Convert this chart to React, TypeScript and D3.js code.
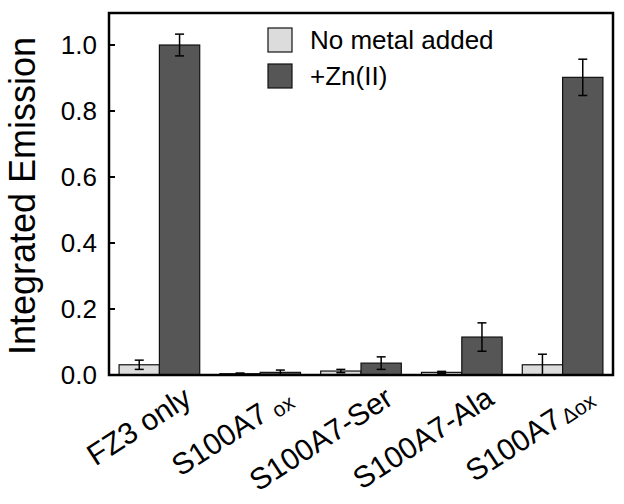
import * as d3 from "d3";

// group labels (main text + small trailing part)
const labelMain = ["FZ3 only", "S100A7", "S100A7-Ser", "S100A7-Ala", "S100A7"];
const labelSmall = ["", "ox", "", "", "Δox"];

// series values
const noMetal = [0.031, 0.004, 0.012, 0.008, 0.031];
const noMetalErr = [0.014, 0.002, 0.005, 0.003, 0.032];
const zinc = [1.0, 0.008, 0.036, 0.115, 0.902];
const zincErr = [0.033, 0.007, 0.019, 0.043, 0.055];

const seriesNames = ["No metal added", "+Zn(II)"];
const yTicks = [0, 0.2, 0.4, 0.6, 0.8, 1.0];

const W = 624;
const H = 504;
const m = { left: 109, right: 11, top: 13, bottom: 129 };
const font = "'Liberation Sans', Arial, Helvetica, sans-serif";
const colors = ["#dcdcdc", "#565656"];

export default function App() {
  const x = d3
    .scaleBand<number>()
    .domain(d3.range(labelMain.length))
    .range([m.left, W - m.right])
    .paddingInner(0.2)
    .paddingOuter(0.1);

  const inner = d3
    .scaleBand<number>()
    .domain([0, 1])
    .range([0, x.bandwidth()]);

  const y = d3
    .scaleLinear()
    .domain([0, 1.097])
    .range([H - m.bottom, m.top]);

  const series = [
    { vals: noMetal, errs: noMetalErr },
    { vals: zinc, errs: zincErr },
  ];

  return (
    <svg
      width={W}
      height={H}
      style={{ position: "absolute", left: 0, top: 0, background: "#fff" }}
      fontFamily={font}
    >
      {/* bars */}
      {series.map((s, si) =>
        s.vals.map((v, i) => (
          <rect
            key={`b${si}-${i}`}
            x={(x(i) ?? 0) + (inner(si) ?? 0)}
            y={y(v)}
            width={inner.bandwidth()}
            height={y(0) - y(v)}
            fill={colors[si]}
            stroke="#111"
            strokeWidth={1.2}
          />
        ))
      )}

      {/* error bars, drawn over the bars */}
      {series.map((s, si) =>
        s.vals.map((v, i) => {
          const cx = (x(i) ?? 0) + (inner(si) ?? 0) + inner.bandwidth() / 2;
          const y1 = y(v + s.errs[i]);
          const y2 = y(Math.max(0, v - s.errs[i]));
          return (
            <g key={`e${si}-${i}`} stroke="#000" strokeWidth={1.5}>
              <line x1={cx} x2={cx} y1={y1} y2={y2} />
              <line x1={cx - 4.5} x2={cx + 4.5} y1={y1} y2={y1} />
              <line x1={cx - 4.5} x2={cx + 4.5} y1={y2} y2={y2} />
            </g>
          );
        })
      )}

      {/* frame */}
      <rect
        x={m.left}
        y={m.top}
        width={W - m.left - m.right}
        height={H - m.top - m.bottom}
        fill="none"
        stroke="#000"
        strokeWidth={2.5}
      />

      {/* y ticks (inward) */}
      {yTicks.map((t) => (
        <g key={t}>
          <line x1={m.left} x2={m.left + 6} y1={y(t)} y2={y(t)} stroke="#000" strokeWidth={2} />
          <text
            x={m.left - 12}
            y={y(t)}
            textAnchor="end"
            dominantBaseline="central"
            fontSize={26}
            fill="#000"
          >
            {d3.format(".1f")(t)}
          </text>
        </g>
      ))}

      {/* y label */}
      <text
        transform={`translate(35, ${(y(0) + m.top) / 2 + 2}) rotate(-90)`}
        textAnchor="middle"
        fontSize={36}
        fill="#000"
      >
        Integrated Emission
      </text>

      {/* x labels */}
      {labelMain.map((lab, i) => {
        const cx = (x(i) ?? 0) + x.bandwidth() / 2;
        const sub = labelSmall[i];
        return (
          <text
            key={lab + i}
            transform={`translate(${cx + 34}, 403) rotate(-33)`}
            textAnchor="end"
            fontSize={30}
            fill="#000"
          >
            {lab}
            {sub && (
              <tspan fontSize={21} dx={sub === "ox" ? 7 : 3} dy={sub === "ox" ? 4 : 2}>
                {sub}
              </tspan>
            )}
          </text>
        );
      })}

      {/* legend */}
      {seriesNames.map((name, si) => (
        <g key={name} transform={`translate(268, ${28 + si * 36})`}>
          <rect width={24} height={24} fill={colors[si]} stroke="#111" strokeWidth={1.2} />
          <text x={42} y={12} dominantBaseline="central" fontSize={26} fill="#000">
            {name}
          </text>
        </g>
      ))}
    </svg>
  );
}
